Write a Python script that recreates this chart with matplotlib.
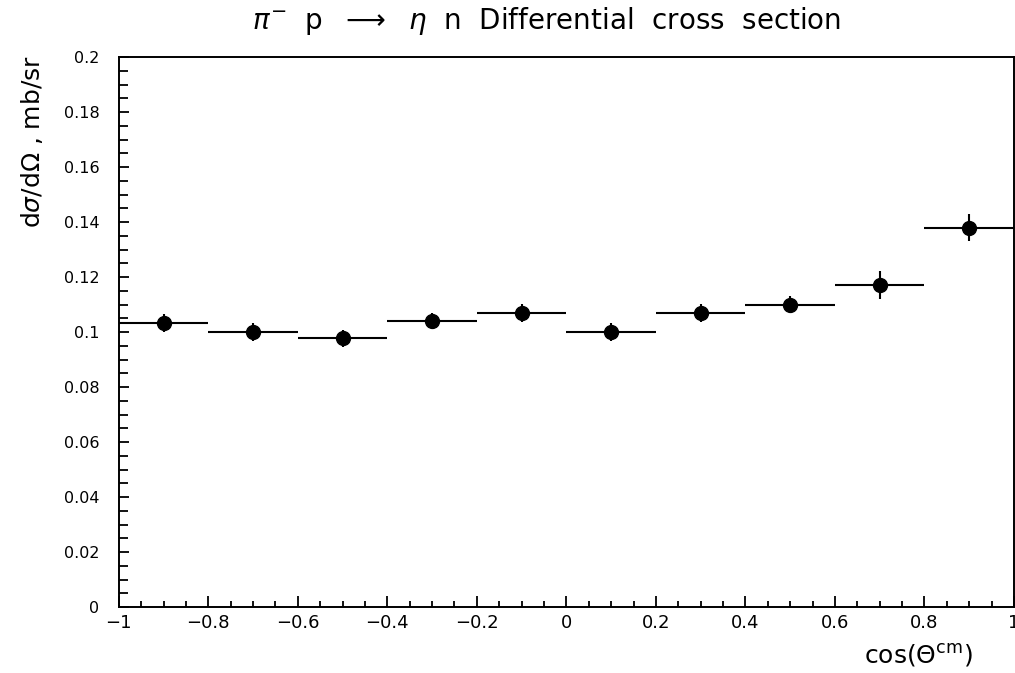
import matplotlib.pyplot as plt
from matplotlib.ticker import MultipleLocator

# bin centres of cos(theta_cm) and measured cross section
cos_theta = [-0.9, -0.7, -0.5, -0.3, -0.1, 0.1, 0.3, 0.5, 0.7, 0.9]
dsigma = [0.1033, 0.1000, 0.0978, 0.1040, 0.1069, 0.1000, 0.1069, 0.1100, 0.1170, 0.1380]
dsigma_err = [0.0032, 0.0032, 0.0031, 0.0030, 0.0032, 0.0032, 0.0033, 0.0030, 0.0051, 0.0049]
bin_half = [0.1] * 10

xticks = [-1, -0.8, -0.6, -0.4, -0.2, 0, 0.2, 0.4, 0.6, 0.8, 1]
yticks = [0, 0.02, 0.04, 0.06, 0.08, 0.1, 0.12, 0.14, 0.16, 0.18, 0.2]

fig = plt.figure(figsize=(10.15, 6.73), dpi=100)
ax = fig.add_axes([0.117, 0.098, 0.882, 0.817])

ax.errorbar(cos_theta, dsigma, xerr=bin_half, yerr=dsigma_err, fmt='o',
            color='black', ms=10, elinewidth=1.5, capsize=0)

ax.set_xlim(-1, 1)
ax.set_ylim(0, 0.2)
ax.xaxis.set_minor_locator(MultipleLocator(0.05))
ax.yaxis.set_minor_locator(MultipleLocator(0.005))
ax.tick_params(which='both', direction='in', top=False, right=False, width=1.3)
ax.tick_params(axis='x', which='major', length=8, pad=5, labelsize=13)
ax.tick_params(axis='x', which='minor', length=4.5)
ax.tick_params(axis='y', which='major', length=7.5, pad=14, labelsize=11.5)
ax.tick_params(axis='y', which='minor', length=6.5)


def fmt(v):
    if abs(v) < 1e-9:
        return '0'
    return ('%g' % v).replace('-', '\u2212')


ax.set_xticks(xticks)
ax.set_xticklabels([fmt(v) for v in xticks])
ax.set_yticks(yticks)
ax.set_yticklabels([fmt(v) for v in yticks])

for s in ax.spines.values():
    s.set_linewidth(1.4)

fig.text(0.539, 0.969,
         r'$\pi^{-}$  p  $\longrightarrow$  $\eta$  n  Differential  cross  section',
         ha='center', va='center', fontsize=20)
fig.text(0.032, 0.918, r'd$\sigma$/d$\Omega$ , mb/sr', rotation=90,
         ha='center', va='top', fontsize=18)
fig.text(0.958, 0.006, r'cos($\Theta^{\rm cm}$)', ha='right', va='bottom',
         fontsize=18)

fig.savefig('out.png', dpi=100)
